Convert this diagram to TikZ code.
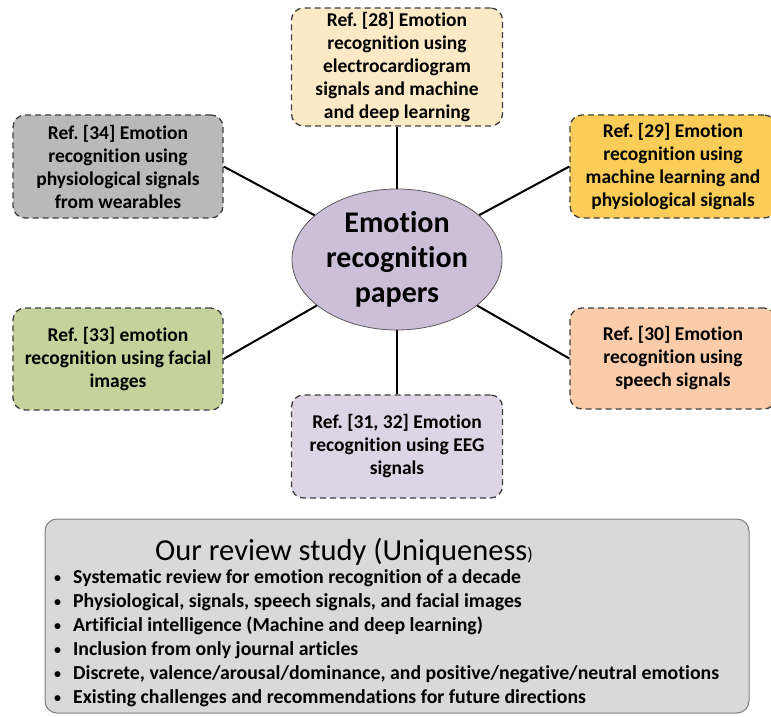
\documentclass[tikz,border=0pt]{standalone}
\usepackage{fontspec}
\setmainfont{Carlito}[Ligatures=NoCommon]
\usetikzlibrary{shapes.geometric}
\frenchspacing

\definecolor{peachlight}{HTML}{FCEAC6}
\definecolor{stonegray}{HTML}{B9B9B9}
\definecolor{goldfill}{HTML}{F9CD58}
\definecolor{olivefill}{HTML}{C6D29C}
\definecolor{apricot}{HTML}{FBCCA9}
\definecolor{lilac}{HTML}{DDD5E5}
\definecolor{hubfill}{HTML}{CDBFD8}
\definecolor{hubline}{HTML}{5A5A5A}
\definecolor{dashline}{HTML}{3F3F3F}
\definecolor{panelfill}{HTML}{D9D9D9}
\definecolor{panelline}{HTML}{7F7F7F}

% small list marker
\newcommand{\listdot}{\raisebox{0.8pt}{\fontsize{14}{14}\selectfont\textbullet}}

\begin{document}
\begin{tikzpicture}[x=1pt,y=-1pt,
  refbox/.style={draw=dashline, dash pattern=on 6pt off 4pt, line width=1.3pt,
    rounded corners=12pt, minimum width=210pt, minimum height=103pt,
    align=center, inner sep=0pt,
    font=\fontsize{19.5}{23}\selectfont\bfseries},
  link/.style={line width=2pt, black},
  bulletline/.style={anchor=base west, inner sep=0pt,
    font=\fontsize{19.8}{22}\selectfont\bfseries}]
\useasboundingbox (0,0) rectangle (771,717);
\clip (0,0) rectangle (771,717);

% central hub
\node[ellipse, draw=hubline, line width=0.8pt, fill=hubfill,
  minimum width=210pt, minimum height=141pt, inner sep=0pt] (hub) at (397,259.5) {};
\node[align=center, inner sep=0pt, font=\fontsize{30}{35}\selectfont\bfseries]
  (hubtext) at (hub.center) {Emotion\\recognition\\papers};

% reference boxes around the hub
\node[refbox, fill=peachlight, minimum width=211pt, minimum height=118pt] (r28) at (397,67)
  {Ref. [28] Emotion\\recognition using\\electrocardiogram\\signals and machine\\and deep learning};
\node[refbox, fill=stonegray] (r34) at (118,166.5)
  {Ref. [34] Emotion\\recognition using\\physiological signals\\from wearables};
\node[refbox, fill=goldfill, minimum width=206pt] (r29) at (673,166.5)
  {Ref. [29] Emotion\\recognition using\\machine learning and\\physiological signals};
\node[refbox, fill=olivefill, minimum height=102pt] (r33) at (118,359)
  {Ref. [33] emotion\\recognition using facial\\images};
\node[refbox, fill=apricot, minimum width=206pt, minimum height=101pt] (r30) at (673,358.5)
  {Ref. [30] Emotion\\recognition using\\speech signals};
\node[refbox, fill=lilac, minimum width=211pt] (r31) at (397,446.5)
  {Ref. [31, 32] Emotion\\recognition using EEG\\signals};

% spokes
\draw[link] (r28.south) -- (hub);
\draw[link] (r31.north) -- (hub);
\draw[link] (r34.east) -- (hub);
\draw[link] (r33.east) -- (hub);
\draw[link] (r29.west) -- (hub);
\draw[link] (r30.west) -- (hub);

% summary panel
\node[draw=panelline, fill=panelfill, line width=1pt, rounded corners=12pt,
  minimum width=704pt, minimum height=194pt, inner sep=0pt] (panel) at (397,616) {};
\node[anchor=base west, inner sep=0pt, font=\fontsize{30.5}{36}\selectfont] (title) at (155,560)
  {Our review study (Uniqueness{\fontsize{18}{20}\selectfont)}};

\foreach \i/\txt in {
  1/Systematic review for emotion recognition of a decade,
  2/{Physiological, signals, speech signals, and facial images},
  3/Artificial intelligence (Machine and deep learning),
  4/Inclusion from only journal articles,
  5/{Discrete, valence/arousal/dominance, and positive/negative/neutral emotions},
  6/Existing challenges and recommendations for future directions}
  \node[bulletline] (item\i) at (54,{583+24*(\i-1)})
    {\makebox[19pt][l]{\listdot}\txt};
\end{tikzpicture}
\end{document}
